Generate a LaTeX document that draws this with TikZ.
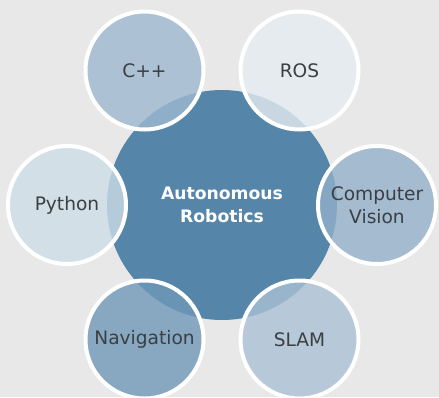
\documentclass[tikz,border=0pt]{standalone}
\usepackage{fontspec}
\setmainfont{DejaVu Sans}
\begin{document}
\begin{tikzpicture}[x=1pt,y=-1pt,
  hub/.style={circle,fill=hubc,minimum size=230pt,inner sep=0pt,
    text=white,font=\bfseries\fontsize{17.2}{23}\selectfont,align=center},
  sat/.style={circle,draw=white,line width=4pt,fill opacity=0.8,text opacity=1,
    minimum size=118pt,inner sep=0pt,text=txtc,
    font=\fontsize{18.6}{23}\selectfont,align=center}]
\definecolor{bgc}{HTML}{E8E8E8}
\definecolor{hubc}{HTML}{5585A8}
\definecolor{txtc}{HTML}{3A3F44}
\definecolor{cppc}{HTML}{9EB9CF}
\definecolor{rosc}{HTML}{E6ECF2}
\definecolor{pyc}{HTML}{CEDDE7}
\definecolor{cvc}{HTML}{93B0CA}
\definecolor{navc}{HTML}{7098B8}
\definecolor{slamc}{HTML}{ABC2D5}
\fill[bgc] (0,0) rectangle (439,397);
\useasboundingbox (0,0) rectangle (439,397);
\node[hub] (hub) at (222,205) {Autonomous\\Robotics};
\node[sat,fill=cppc] (cpp) at (144.5,70.5) {C++};
\node[sat,fill=rosc] (ros) at (299.5,70.5) {ROS};
\node[sat,fill=pyc] (py) at (67,205) {Python};
\node[sat,fill=cvc] (cv) at (377,205) {Computer\\Vision};
\node[sat,fill=navc] (nav) at (144.5,339.5) {Navigation};
\node[sat,fill=slamc] (slam) at (299.5,339.5) {SLAM};
\end{tikzpicture}
\end{document}
